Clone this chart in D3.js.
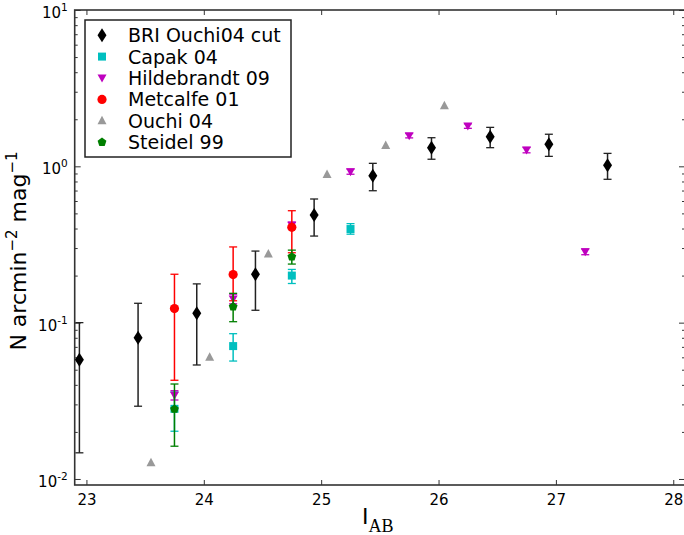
<!DOCTYPE html>
<html>
<head>
<meta charset="utf-8">
<script src="https://cdn.jsdelivr.net/npm/d3@7"></script>
<style>
  body { margin: 0; background: #fff; }
  text { font-family: "DejaVu Sans", sans-serif; }
</style>
</head>
<body>
<div id="chart"></div>
<script>
// BRI Ouchi04 cut
var briX = [22.94, 23.44, 23.94, 24.44, 24.94, 25.44, 25.94, 26.44, 26.94, 27.44];
var briY = [0.058, 0.080, 0.115, 0.204, 0.488, 0.871, 1.316, 1.545, 1.384, 1.015];
var briLo = [0.0147, 0.0292, 0.0536, 0.120, 0.358, 0.698, 1.11, 1.316, 1.158, 0.826];
var briHi = [0.100, 0.133, 0.177, 0.287, 0.618, 1.045, 1.524, 1.775, 1.604, 1.21];

// Capak 04
var capX = [23.75, 24.25, 24.75, 25.25];
var capY = [0.0281, 0.0708, 0.200, 0.397];
var capLo = [0.0202, 0.0568, 0.178, 0.368];
var capHi = [0.036, 0.085, 0.219, 0.43];

// Hildebrandt 09
var hilX = [23.75, 24.25, 24.75, 25.25, 25.75, 26.25, 26.75, 27.25];
var hilY = [0.0343, 0.1416, 0.42, 0.924, 1.57, 1.81, 1.27, 0.284];
var hilLo = [0.032, 0.132, 0.40, 0.89, 1.52, 1.75, 1.22, 0.272];
var hilHi = [0.0367, 0.152, 0.44, 0.96, 1.62, 1.87, 1.32, 0.296];

// Metcalfe 01
var metX = [23.75, 24.25, 24.75];
var metY = [0.123, 0.203, 0.407];
var metLo = [0.0428, 0.138, 0.28];
var metHi = [0.204, 0.305, 0.52];

// Ouchi 04 (no errors)
var ouX = [23.55, 24.05, 24.55, 25.05, 25.55, 26.05];
var ouY = [0.0127, 0.060, 0.275, 0.888, 1.36, 2.44];

// Steidel 99
var steX = [23.75, 24.25, 24.75];
var steY = [0.028, 0.1265, 0.264];
var steLo = [0.0162, 0.1014, 0.237];
var steHi = [0.0405, 0.154, 0.291];

var xTicks = [23, 24, 25, 26, 27, 28];
var yMajor = [0.01, 0.1, 1, 10];
var yExp = ["-2", "-1", "0", "1"];

function init() {
  var W = 684, H = 535;
  var pL = 74.7, pR = 685, pT = 10, pB = 485;

  var x = d3.scaleLinear().domain([22.9, 28.1]).range([pL, pR]);
  var y = d3.scaleLog().domain([0.00915, 10]).range([pB, pT]);

  var svg = d3.select("#chart").append("svg")
      .attr("width", W).attr("height", H);

  // marker shapes
  var shapes = {
    diamond: "M0,-7L4.5,0L0,7L-4.5,0Z",
    square: "M-4,-4H4V4H-4Z",
    tridown: "M0,4.5L4.5,-3.5L-4.5,-3.5Z",
    triup: "M0,-5L4.5,3.5L-4.5,3.5Z",
    pentagon: "M0,-4.6L4.4,-1.4L2.7,3.7L-2.7,3.7L-4.4,-1.4Z"
  };

  var series = [
    {name: "BRI Ouchi04 cut", xs: briX, ys: briY, lo: briLo, hi: briHi, color: "#000", bar: "#222", shape: "diamond"},
    {name: "Capak 04", xs: capX, ys: capY, lo: capLo, hi: capHi, color: "#00bfbf", bar: "#00bfbf", shape: "square"},
    {name: "Hildebrandt 09", xs: hilX, ys: hilY, lo: hilLo, hi: hilHi, color: "#bf00bf", bar: "#bf00bf", shape: "tridown"},
    {name: "Metcalfe 01", xs: metX, ys: metY, lo: metLo, hi: metHi, color: "#ff0000", bar: "#ff0000", shape: "circle"},
    {name: "Ouchi 04", xs: ouX, ys: ouY, lo: null, hi: null, color: "#999999", bar: "#999999", shape: "triup"},
    {name: "Steidel 99", xs: steX, ys: steY, lo: steLo, hi: steHi, color: "#007f00", bar: "#007f00", shape: "pentagon"}
  ];

  function drawMarker(g, shape, color) {
    if (shape === "circle") {
      g.append("circle").attr("r", 4.6).attr("fill", color);
    } else {
      g.append("path").attr("d", shapes[shape]).attr("fill", color);
    }
  }

  // axes with inward ticks
  var xAxisB = d3.axisBottom(x).tickValues(xTicks).tickSize(-5).tickPadding(9)
      .tickFormat(d3.format("d"));
  svg.append("g").attr("transform", "translate(0," + pB + ")").call(xAxisB)
    .call(function(g) {
      g.select(".domain").remove();
      g.selectAll(".tick line").attr("stroke", "#333").attr("stroke-width", 1);
      g.selectAll(".tick text").attr("font-size", 15).attr("fill", "#000")
        .attr("font-family", "DejaVu Sans");
    });
  var xAxisT = d3.axisTop(x).tickValues(xTicks).tickSize(-5).tickFormat("");
  svg.append("g").attr("transform", "translate(0," + pT + ")").call(xAxisT)
    .call(function(g) {
      g.select(".domain").remove();
      g.selectAll(".tick line").attr("stroke", "#333").attr("stroke-width", 1);
    });

  var minor = y.ticks().filter(function(v) {
    return yMajor.indexOf(v) < 0 && v < 10;
  });

  function yAxisGroup(axisFn, tx) {
    var gMaj = svg.append("g").attr("transform", "translate(" + tx + ",0)")
      .call(axisFn(y).tickValues(yMajor).tickSize(-6).tickFormat(""));
    var gMin = svg.append("g").attr("transform", "translate(" + tx + ",0)")
      .call(axisFn(y).tickValues(minor).tickSize(-3).tickFormat(""));
    [gMaj, gMin].forEach(function(g) {
      g.select(".domain").remove();
      g.selectAll(".tick line").attr("stroke", "#333").attr("stroke-width", 1);
    });
  }
  yAxisGroup(d3.axisLeft, pL);
  yAxisGroup(d3.axisRight, pR);

  // y tick labels 10^n
  var yl = svg.append("g").selectAll("text").data(yMajor).enter().append("text")
    .attr("x", pL - 7)
    .attr("y", function(d) { return y(d) + 8; })
    .attr("text-anchor", "end")
    .attr("font-size", 15);
  yl.append("tspan").text("10");
  yl.append("tspan").attr("dy", -7).attr("font-size", 10.5)
    .text(function(d, i) { return yExp[i]; });

  // frame
  svg.append("rect").attr("x", pL).attr("y", pT)
    .attr("width", pR - pL).attr("height", pB - pT)
    .attr("fill", "none").attr("stroke", "#333").attr("stroke-width", 1.6);

  // data
  var plot = svg.append("g");
  series.forEach(function(s) {
    var g = plot.append("g");
    if (s.lo) {
      s.xs.forEach(function(xv, i) {
        var cx = x(xv), y0 = y(s.lo[i]), y1 = y(s.hi[i]);
        g.append("line").attr("x1", cx).attr("x2", cx).attr("y1", y0).attr("y2", y1)
          .attr("stroke", s.bar).attr("stroke-width", 1.5);
        [y0, y1].forEach(function(cy) {
          g.append("line").attr("x1", cx - 4).attr("x2", cx + 4).attr("y1", cy).attr("y2", cy)
            .attr("stroke", s.bar).attr("stroke-width", 1.3);
        });
      });
    }
    s.xs.forEach(function(xv, i) {
      var m = g.append("g").attr("transform", "translate(" + x(xv) + "," + y(s.ys[i]) + ")");
      drawMarker(m, s.shape, s.color);
    });
  });

  // legend
  var lg = svg.append("g");
  lg.append("rect").attr("x", 85).attr("y", 20).attr("width", 206).attr("height", 137)
    .attr("fill", "#fff").attr("stroke", "#222").attr("stroke-width", 1.5);
  series.forEach(function(s, i) {
    var ly = 35.2 + i * 21.4;
    var m = lg.append("g").attr("transform", "translate(102," + ly + ")");
    drawMarker(m, s.shape, s.color);
    lg.append("text").attr("x", 128).attr("y", ly + 7).attr("font-size", 19).text(s.name);
  });

  // axis titles
  var ylab = svg.append("text")
    .attr("transform", "translate(26,251) rotate(-90)")
    .attr("text-anchor", "middle").attr("font-size", 22);
  ylab.append("tspan").text("N arcmin");
  ylab.append("tspan").attr("dy", -9).attr("font-size", 15).text("\u22122");
  ylab.append("tspan").attr("dy", 9).text(" mag");
  ylab.append("tspan").attr("dy", -9).attr("font-size", 15).text("\u22121");

  var xlab = svg.append("text").attr("x", 362).attr("y", 524).attr("font-size", 22);
  xlab.append("tspan").text("I");
  xlab.append("tspan").attr("dy", 8).attr("font-size", 18)
    .attr("font-family", "Liberation Serif, serif").text("AB");
}

window.onload = init;
</script>
</body>
</html>
